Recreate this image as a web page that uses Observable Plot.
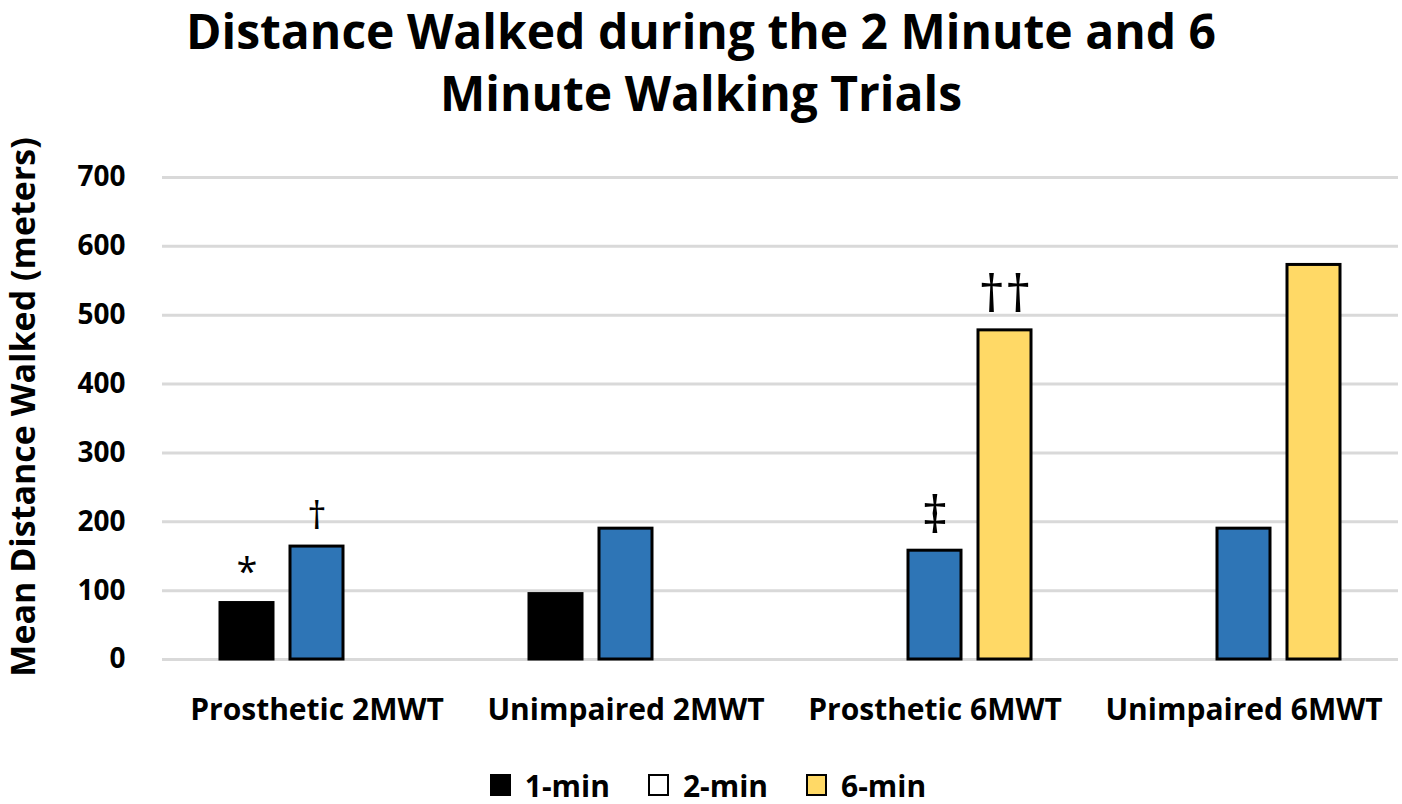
<!DOCTYPE html>
<html>
<head>
<meta charset="utf-8">
<script src="https://cdn.jsdelivr.net/npm/d3@7"></script>
<script src="https://cdn.jsdelivr.net/npm/@observablehq/plot@0.6"></script>
<style>
  body { margin: 0; background: #fff; font-family: "Open Sans", sans-serif; width: 1402px; overflow: hidden; }
  #title { text-align: center; font-weight: 700; font-size: 48px; line-height: 62px; height: 124px; color: #000; margin-top: 0; }
  #legend { display: flex; justify-content: center; align-items: center; font-weight: 700; font-size: 30px; height: 40px; margin-left: 14px; margin-top: 1px; }
  .item { display: flex; align-items: center; margin: 0 19px; }
  .sw { width: 17px; height: 18px; border: 2px solid #000; margin-right: 14px; box-sizing: content-box; }
</style>
</head>
<body>
<div id="title">Distance Walked during the 2 Minute and 6<br>Minute Walking Trials</div>
<div id="chart"></div>
<div id="legend"></div>
<script>
const groups = ["Prosthetic 2MWT", "Unimpaired 2MWT", "Prosthetic 6MWT", "Unimpaired 6MWT"];
const series = ["1-min", "2-min", "6-min"];
const values1min = [82, 95, null, null];
const values2min = [164, 190, 158, 190];
const values6min = [null, null, 478, 573];
const barColors = ["#000000", "#2E75B6", "#FFD966"];
const legendColors = ["#000000", "#FFFFFF", "#FFD966"];
const yTicks = [0, 100, 200, 300, 400, 500, 600, 700];
const yLabel = "Mean Distance Walked (meters)";
const notes = [
  {group: "Prosthetic 2MWT", series: "1-min", label: "*"},
  {group: "Prosthetic 2MWT", series: "2-min", label: "†"},
  {group: "Prosthetic 6MWT", series: "2-min", label: "‡"},
  {group: "Prosthetic 6MWT", series: "6-min", label: "††"}
];

const seriesValues = [values1min, values2min, values6min];
const data = [];
groups.forEach((g, i) => series.forEach((s, j) => {
  const v = seriesValues[j][i];
  if (v != null) data.push({group: g, series: s, value: v});
}));
const noteData = notes.map(n => ({...n, value: seriesValues[series.indexOf(n.series)][groups.indexOf(n.group)]}));

const chart = Plot.plot({
  width: 1402,
  height: 640,
  marginLeft: 162,
  marginRight: 4,
  marginTop: 53,
  marginBottom: 105,
  style: {fontFamily: "Open Sans, sans-serif", color: "#000", background: "#fff"},
  fx: {domain: groups, padding: 0, label: null},
  x: {domain: series, paddingInner: 0.25, paddingOuter: 0.82, axis: null},
  y: {domain: [0, 700], ticks: yTicks, label: null},
  color: {domain: series, range: barColors},
  marks: [
    Plot.ruleY(yTicks, {stroke: "#D9D9D9", strokeWidth: 3}),
    Plot.barY(data, {fx: "group", x: "series", y: "value", fill: "series", stroke: "#000", strokeWidth: 3}),
    Plot.text(noteData, {fx: "group", x: "series", y: "value", text: "label", lineAnchor: "bottom", dy: -18,
      fontSize: d => (d.label.length > 1 || d.label === "‡") ? 52 : 38, fill: "#000"}),
    Plot.axisY({ticks: yTicks, tickSize: 0, tickPadding: 37, fontSize: 28, fontWeight: 700, label: null}),
    Plot.axisFx({anchor: "bottom", tickSize: 0, tickPadding: 39, fontSize: 30, fontWeight: 700, label: null})
  ]
});
document.getElementById("chart").appendChild(chart);

d3.select(chart).append("text")
  .attr("transform", "translate(35," + (407 - 124) + ") rotate(-90)")
  .attr("text-anchor", "middle")
  .attr("font-size", 34)
  .attr("font-weight", 700)
  .attr("font-family", "Open Sans, sans-serif")
  .attr("fill", "#000")
  .text(yLabel);

const legend = d3.select("#legend");
series.forEach((s, i) => {
  const it = legend.append("div").attr("class", "item");
  it.append("div").attr("class", "sw").style("background", legendColors[i]);
  it.append("span").text(s);
});
</script>
</body>
</html>
